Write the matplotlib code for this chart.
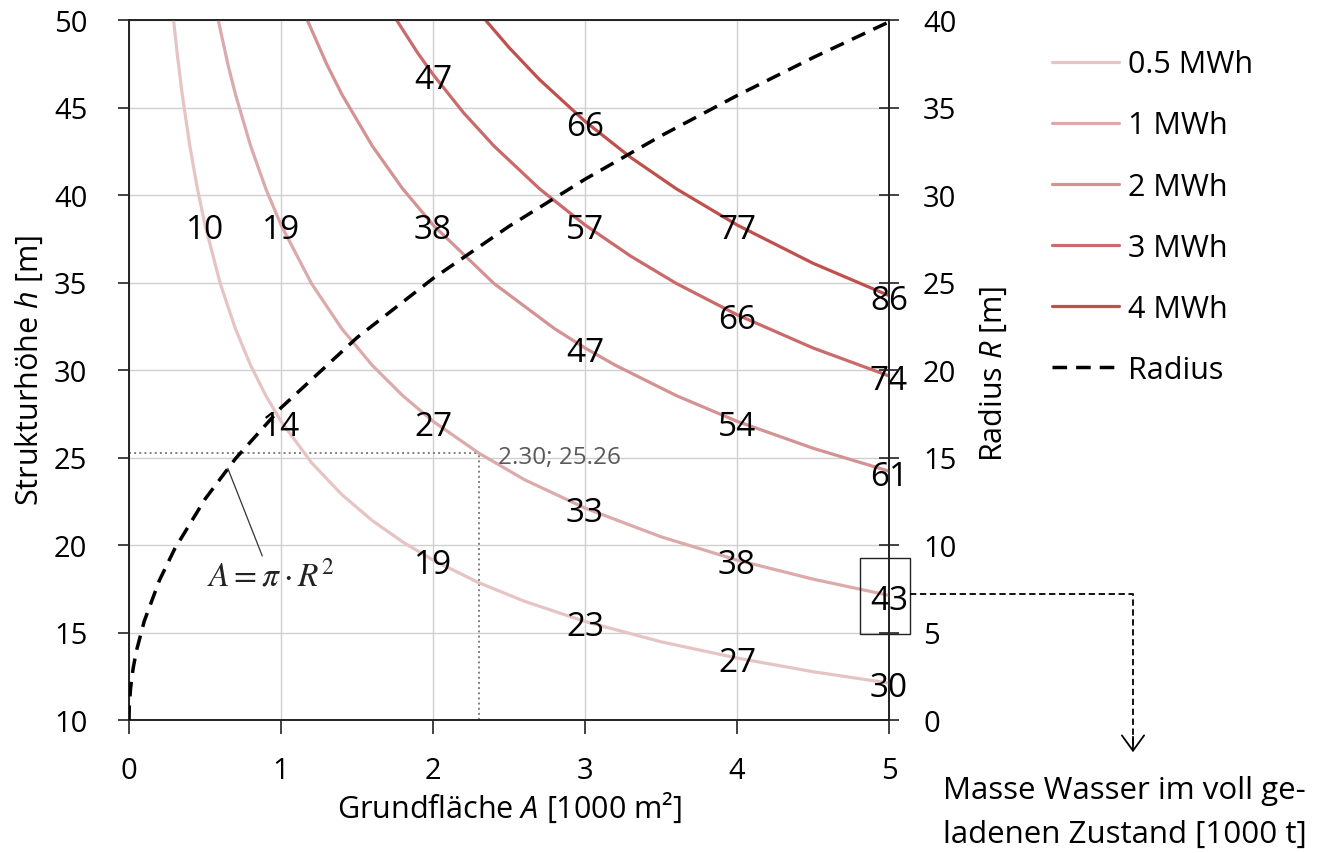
import matplotlib
matplotlib.use("Agg")
import matplotlib.pyplot as plt
from matplotlib.lines import Line2D
from matplotlib.patches import Rectangle, FancyArrowPatch

plt.rcParams['font.family'] = ['Open Sans', 'DejaVu Sans']
plt.rcParams['mathtext.fontset'] = 'custom'
plt.rcParams['mathtext.it'] = 'Open Sans:italic'
plt.rcParams['mathtext.rm'] = 'Open Sans'

# ---- data ----
series_names = ["0.5 MWh", "1 MWh", "2 MWh", "3 MWh", "4 MWh"]
series_colors = ["#e6c4c4", "#dcaaaa", "#d49292", "#cb6a6a", "#c0504d"]

A_05 = [0.293, 0.32, 0.35, 0.4, 0.45, 0.5, 0.6, 0.7, 0.8, 0.9, 1.0, 1.2, 1.4, 1.6, 1.8, 2.0, 2.3, 2.6, 3.0, 3.5, 4.0, 4.5, 5.0]
h_05 = [50.0, 47.86, 45.76, 42.81, 40.36, 38.29, 34.95, 32.36, 30.27, 28.54, 27.07, 24.71, 22.88, 21.40, 20.18, 19.14, 17.85, 16.79, 15.63, 14.47, 13.54, 12.76, 12.11]

A_1 = [0.587, 0.65, 0.7, 0.8, 0.9, 1.0, 1.2, 1.4, 1.6, 1.8, 2.0, 2.3, 2.6, 3.0, 3.5, 4.0, 4.5, 5.0]
h_1 = [50.0, 47.49, 45.76, 42.81, 40.36, 38.29, 34.95, 32.36, 30.27, 28.54, 27.07, 25.26, 23.74, 22.11, 20.47, 19.14, 18.05, 17.12]

A_2 = [1.173, 1.3, 1.4, 1.6, 1.8, 2.0, 2.4, 2.8, 3.0, 3.2, 3.6, 4.0, 4.5, 5.0]
h_2 = [50.0, 47.49, 45.76, 42.81, 40.36, 38.29, 34.95, 32.36, 31.26, 30.27, 28.54, 27.07, 25.53, 24.22]

A_3 = [1.76, 1.9, 2.0, 2.2, 2.4, 2.7, 3.0, 3.3, 3.6, 4.0, 4.5, 5.0]
h_3 = [50.0, 48.11, 46.89, 44.71, 42.81, 40.36, 38.29, 36.51, 34.95, 33.16, 31.26, 29.66]

A_4 = [2.345, 2.5, 2.7, 3.0, 3.3, 3.6, 4.0, 4.5, 5.0]
h_4 = [50.0, 48.43, 46.60, 44.21, 42.15, 40.36, 38.29, 36.10, 34.25]

# mass labels [1000 t] at given A positions
lab_A_05 = [0.5, 1.0, 2.0, 3.0, 4.0, 5.0]
lab_m_05 = [10, 14, 19, 23, 27, 30]
lab_A_1 = [1.0, 2.0, 3.0, 4.0, 5.0]
lab_m_1 = [19, 27, 33, 38, 43]
lab_A_2 = [2.0, 3.0, 4.0, 5.0]
lab_m_2 = [38, 47, 54, 61]
lab_A_3 = [2.0, 3.0, 4.0, 5.0]
lab_m_3 = [47, 57, 66, 74]
lab_A_4 = [3.0, 4.0, 5.0]
lab_m_4 = [66, 77, 86]

# radius curve (right axis)
A_R = [0.0, 0.002, 0.01, 0.02, 0.03, 0.05, 0.1, 0.2, 0.3, 0.5, 0.7, 1.0, 1.5, 2.0, 2.5, 3.0, 3.5, 4.0, 4.5, 5.0]
R_R = [0.0, 0.80, 1.78, 2.52, 3.09, 3.99, 5.64, 7.98, 9.77, 12.62, 14.93, 17.84, 21.85, 25.23, 28.21, 30.90, 33.38, 35.68, 37.85, 39.89]

marked_A = 2.30
marked_h = 25.26
formula_point_A = 0.65
formula_point_R = 14.38

curves = [(A_05, h_05, lab_A_05, lab_m_05),
          (A_1, h_1, lab_A_1, lab_m_1),
          (A_2, h_2, lab_A_2, lab_m_2),
          (A_3, h_3, lab_A_3, lab_m_3),
          (A_4, h_4, lab_A_4, lab_m_4)]

W, H = 1329, 854
fig = plt.figure(figsize=(W / 100, H / 100), dpi=100)
ax = fig.add_axes([129 / W, 1 - 721 / H, (889 - 129) / W, (721 - 21) / H])
ax2 = ax.twinx()

FS_TICK = 21
FS_LAB = 24
FS_AX = 22
FS_LEG = 22

handles = []
for (xs, ys, la, lm), name, col in zip(curves, series_names, series_colors):
    ln, = ax.plot(xs, ys, color=col, lw=2.3, label=name, solid_capstyle='round', zorder=3)
    handles.append(ln)
    for a, m in zip(la, lm):
        hy = ys[xs.index(a)]
        ax.annotate(str(m), xy=(a, hy), xytext=(0, -3.5), textcoords='offset points',
                    ha='center', va='center', fontsize=FS_LAB, color='black',
                    zorder=5, annotation_clip=False)

rad, = ax2.plot(A_R, R_R, color='black', lw=2.5, ls=(0, (4.2, 2.6)), label='Radius', zorder=4)
handles.append(rad)

# dotted marker lines
ax.plot([0, marked_A], [marked_h, marked_h], color='#808080', lw=1.4, ls=':', zorder=2)
ax.plot([marked_A, marked_A], [10, marked_h], color='#808080', lw=1.4, ls=':', zorder=2)
ax.text(marked_A + 0.13, marked_h - 0.25, f"{marked_A:.2f}; {marked_h:.2f}", fontsize=17.5,
        color='#595959', ha='left', va='center')

# formula annotation
ax2.annotate(r'$A = \pi \cdot R^2$', xy=(formula_point_A, formula_point_R),
             xytext=(0.93, 8.2), textcoords='data', ha='center', va='center',
             fontsize=24, color='#222222', math_fontfamily='stix',
             arrowprops=dict(arrowstyle='-', color='#333333', lw=0.9, shrinkA=1, shrinkB=0))

# axes setup
ax.set_xlim(0, 5)
ax.set_ylim(10, 50)
ax2.set_ylim(0, 40)
ax.set_xticks(range(0, 6))
ax.set_yticks(range(10, 51, 5))
ax2.set_yticks(range(0, 41, 5))
ax.grid(True, color='#d0d0d0', lw=1.0, zorder=0)
ax.set_axisbelow(True)
for a_ in (ax, ax2):
    for sp in a_.spines.values():
        sp.set_color('#222222')
        sp.set_linewidth(1.2)
ax.tick_params(axis='x', direction='out', length=10, width=1.2, labelsize=FS_TICK, pad=16, colors='#222222')
ax.tick_params(axis='y', direction='out', length=8, width=1.2, labelsize=FS_TICK, pad=22, colors='#222222')
ax2.tick_params(axis='y', direction='inout', length=15, width=1.2, labelsize=FS_TICK, pad=17, colors='#222222')
for lbl in ax.get_xticklabels() + ax.get_yticklabels() + ax2.get_yticklabels():
    lbl.set_color('black')

ax.set_xlabel(r'Grundfläche $\mathit{A}$ [1000 m²]', fontsize=FS_AX)
ax.set_ylabel(r'Strukturhöhe $\mathit{h}$ [m]', fontsize=FS_AX)
ax2.set_ylabel(r'Radius $\mathit{R}$ [m]', fontsize=FS_AX)
for lab in (ax.xaxis.label, ax.yaxis.label, ax2.yaxis.label):
    lab.set_va('center')
    lab.set_ha('center')
    lab.set_rotation_mode('default')
ax.xaxis.set_label_coords((510 - 129) / 760, (721 - 808) / 700)
ax.yaxis.set_label_coords((29 - 129) / 760, 0.5)
ax2.yaxis.set_label_coords((993 - 129) / 760, (721 - 374) / 700)

# box around the 43 label and pointer to the note
x43 = lab_A_1[-1]
y43 = h_1[A_1.index(x43)]
ax.add_patch(Rectangle((x43 - 0.19, y43 - 2.2), 0.33, 4.35, fill=False, ec='#222222', lw=1.0,
                       clip_on=False, zorder=6))
px = lambda x: x / W
py = lambda y: 1 - y / H
fig.add_artist(Line2D([px(910), px(1133), px(1133)], [py(595), py(595), py(748)],
                      color='black', lw=1.3, ls=(0, (3.5, 2))))
fig.add_artist(FancyArrowPatch((px(1133), py(735)), (px(1133), py(756)),
               transform=fig.transFigure, arrowstyle='->,head_length=0.55,head_width=0.4',
               mutation_scale=20, color='black', lw=1.3))
fig.text(px(943), py(776), "Masse Wasser im voll ge-\nladenen Zustand [1000 t]", fontsize=22.5,
         ha='left', va='top', linespacing=1.6)

fig.legend(handles=handles, labels=series_names + ['Radius'], loc='upper left',
           bbox_to_anchor=(px(1040), py(38)), frameon=False, fontsize=FS_LEG,
           handlelength=2.2, labelspacing=1.02, handletextpad=0.27, borderaxespad=0)

fig.savefig('out.png', dpi=100)
